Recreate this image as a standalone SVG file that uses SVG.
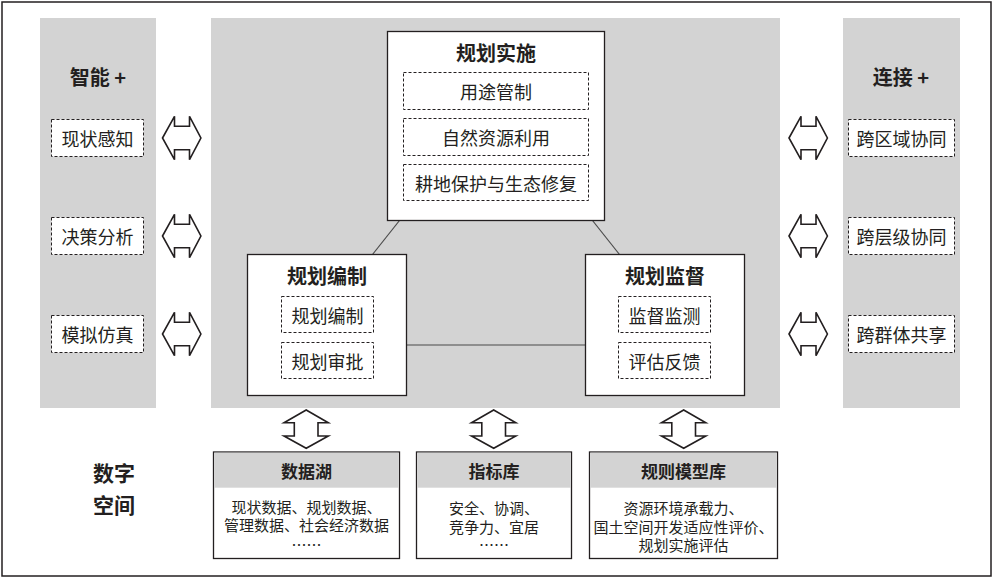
<svg xmlns="http://www.w3.org/2000/svg" width="997" height="581" viewBox="0 0 997 581">
<defs>
<style>
text{font-family:"Noto Sans CJK SC","Noto Sans",sans-serif;fill:#231f20;text-anchor:middle;dominant-baseline:central}
.t{font-size:20px;font-weight:bold}
.h{font-size:17px;font-weight:bold}
.s{font-size:18px}
.b{font-size:15px}
.bg{fill:#d3d3d3}
.box{fill:#fff;stroke:#231f20;stroke-width:1.3}
.dash{fill:#fff;stroke:#231f20;stroke-width:1;stroke-dasharray:3 2}
.arr{fill:#fff;stroke:#231f20;stroke-width:1.6;stroke-linejoin:miter}
.ln{stroke:#4a4a4a;stroke-width:1.2;fill:none}
</style>
<path id="ha" d="M0,21.7 L12,0 L12,10 L27,10 L27,0 L38.4,21.7 L27,43.4 L27,33.4 L12,33.4 L12,43.4 Z"/>
<path id="va" d="M22.2,0 L44.3,12.7 L34,12.7 L34,26 L44.3,26 L22.2,38.3 L0,26 L10.3,26 L10.3,12.7 L0,12.7 Z"/>
</defs>
<rect x="2" y="2" width="989" height="574" fill="#fff" stroke="#231f20" stroke-width="1.5"/>
<g id="backgrounds">
<rect class="bg" x="40" y="18" width="116" height="390"/>
<rect class="bg" x="211" y="18" width="569" height="390"/>
<rect class="bg" x="843" y="18" width="117" height="390"/>
</g>
<g id="connectors">
<line class="ln" x1="399.5" y1="220.5" x2="372.5" y2="254.5"/>
<line class="ln" x1="592.5" y1="220.5" x2="619.5" y2="254.5"/>
<line class="ln" x1="406" y1="345" x2="585" y2="345"/>
<use href="#ha" class="arr" x="162.5" y="116.3"/>
<use href="#ha" class="arr" x="162.5" y="214.3"/>
<use href="#ha" class="arr" x="162.5" y="312.3"/>
<use href="#ha" class="arr" x="789" y="116.3"/>
<use href="#ha" class="arr" x="789" y="214.3"/>
<use href="#ha" class="arr" x="789" y="312.3"/>
<use href="#va" class="arr" x="284" y="410"/>
<use href="#va" class="arr" x="471.5" y="410"/>
<use href="#va" class="arr" x="661.5" y="410"/>
</g>
<g id="smart">
<text class="t" x="98" y="76">智能 +</text>
<rect class="dash" x="51.5" y="119.5" width="92" height="37"/>
<text class="s" x="97.5" y="138">现状感知</text>
<rect class="dash" x="51.5" y="217.5" width="92" height="37"/>
<text class="s" x="97.5" y="236">决策分析</text>
<rect class="dash" x="51.5" y="315.5" width="92" height="37"/>
<text class="s" x="97.5" y="334">模拟仿真</text>
</g>
<g id="connect">
<text class="t" x="901" y="76">连接 +</text>
<rect class="dash" x="848.5" y="119.5" width="106" height="37"/>
<text class="s" x="901.5" y="138">跨区域协同</text>
<rect class="dash" x="848.5" y="217.5" width="106" height="37"/>
<text class="s" x="901.5" y="236">跨层级协同</text>
<rect class="dash" x="848.5" y="315.5" width="106" height="37"/>
<text class="s" x="901.5" y="334">跨群体共享</text>
</g>
<g id="implement">
<rect class="box" x="387.5" y="31.5" width="217" height="189"/>
<text class="t" x="496" y="52">规划实施</text>
<rect class="dash" x="403.5" y="72.5" width="185" height="37"/>
<text class="s" x="496" y="91">用途管制</text>
<rect class="dash" x="403.5" y="118.5" width="185" height="37"/>
<text class="s" x="496" y="137">自然资源利用</text>
<rect class="dash" x="403.5" y="164.5" width="185" height="36"/>
<text class="s" x="496" y="183">耕地保护与生态修复</text>
</g>
<g id="compile">
<rect class="box" x="247.5" y="254.5" width="159" height="141"/>
<text class="t" x="327" y="275">规划编制</text>
<rect class="dash" x="281.5" y="296.5" width="92" height="36"/>
<text class="s" x="327.5" y="315">规划编制</text>
<rect class="dash" x="281.5" y="342.5" width="92" height="36"/>
<text class="s" x="327.5" y="361">规划审批</text>
</g>
<g id="supervise">
<rect class="box" x="585.5" y="254.5" width="159" height="141"/>
<text class="t" x="665" y="275">规划监督</text>
<rect class="dash" x="618.5" y="296.5" width="92" height="36"/>
<text class="s" x="664.5" y="315">监督监测</text>
<rect class="dash" x="618.5" y="342.5" width="92" height="36"/>
<text class="s" x="664.5" y="361">评估反馈</text>
</g>
<g id="digital">
<text class="t" x="114" y="472" style="font-size:21px">数字</text>
<text class="t" x="114" y="504" style="font-size:21px">空间</text>
</g>
<g id="datalake">
<rect class="box" x="213.5" y="452" width="186" height="106.5"/>
<rect class="bg" x="214.2" y="452.7" width="184.6" height="35"/>
<text class="h" x="306.5" y="470">数据湖</text>
<text class="b" x="306.5" y="506.5">现状数据、规划数据、</text>
<text class="b" x="306.5" y="524.5">管理数据、社会经济数据</text>
<text class="b" x="306.5" y="544">……</text>
</g>
<g id="indicators">
<rect class="box" x="416.5" y="452" width="155" height="106.5"/>
<rect class="bg" x="417.2" y="452.7" width="153.6" height="35"/>
<text class="h" x="494" y="470">指标库</text>
<text class="b" x="494" y="507.5">安全、协调、</text>
<text class="b" x="494" y="526">竞争力、宜居</text>
<text class="b" x="494" y="544">……</text>
</g>
<g id="models">
<rect class="box" x="589.5" y="452" width="188" height="106.5"/>
<rect class="bg" x="590.2" y="452.7" width="186.6" height="35"/>
<text class="h" x="683.5" y="470">规则模型库</text>
<text class="b" x="683.5" y="507.5">资源环境承载力、</text>
<text class="b" x="683.5" y="526">国土空间开发适应性评价、</text>
<text class="b" x="683.5" y="544.5">规划实施评估</text>
</g>
</svg>
